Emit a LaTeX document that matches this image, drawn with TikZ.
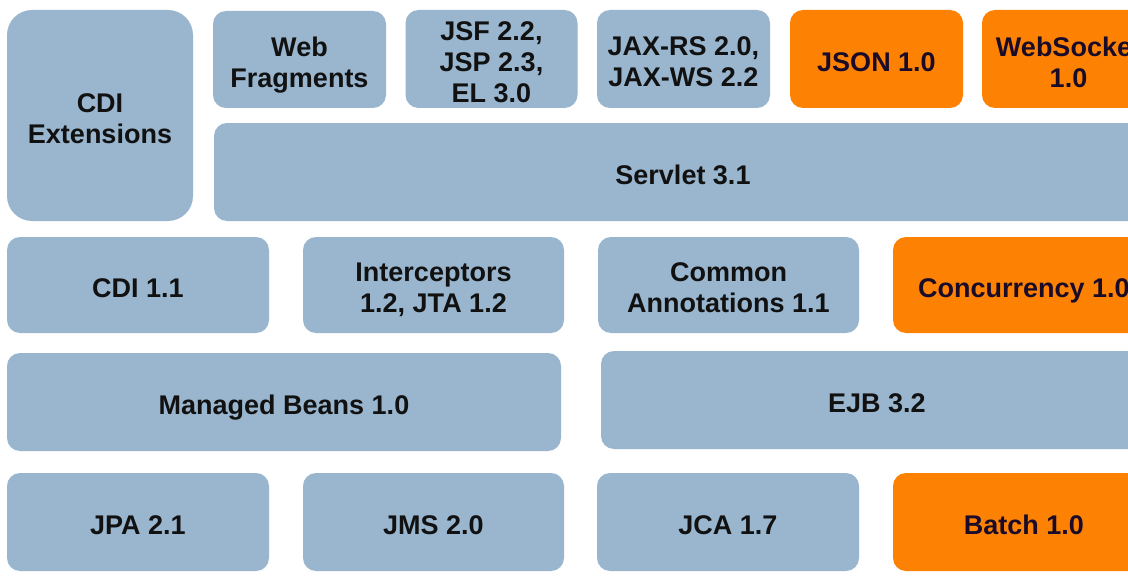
\documentclass[tikz,border=0pt]{standalone}
\usepackage{fontspec}
\setmainfont{Liberation Sans}
\definecolor{jblue}{HTML}{99B6CE}
\definecolor{jorange}{HTML}{FD8204}
\definecolor{jtext}{HTML}{111111}
\definecolor{jotext}{HTML}{1A0C28}
\tikzset{
  jboxb/.style={fill=jblue, rounded corners=13pt, inner sep=0pt},
  jboxo/.style={jboxb, fill=jorange},
  jlabb/.style={inner sep=0pt, align=center, text depth=0pt, text=jtext,
    font=\fontsize{27}{31}\selectfont\bfseries},
  jlabo/.style={jlabb, text=jotext}
}
% #1 kind (b/o), #2 name, #3 cx, #4 cy, #5 width, #6 height, #7 text
\newcommand\jbox[7]{%
  \node[jbox#1, minimum width=#5pt, minimum height=#6pt] (#2) at (#3,#4) {};
  \node[jlab#1] (#2-t) at ([yshift=-3pt]#2.center) {#7};}
\begin{document}
\begin{tikzpicture}[x=1pt,y=-1pt]
\useasboundingbox (0,0) rectangle (1128,578);
\clip (0,0) rectangle (1128,578);
\fill[white] (0,0) rectangle (1128,578);
% row 1
\node[jboxb, rounded corners=25pt, minimum width=186pt, minimum height=211pt] (cdiext) at (100,115.5) {};
\node[jlabb] (cdiext-t) at ([yshift=-3pt]cdiext.center) {CDI\\Extensions};
\jbox{b}{web}{299.5}{59.5}{173}{97}{Web\\Fragments}
\jbox{b}{jsf}{491.5}{59}{172}{98}{JSF 2.2,\\JSP 2.3,\\EL 3.0}
\jbox{b}{jax}{683.5}{59}{173}{98}{JAX-RS 2.0,\\JAX-WS 2.2}
\jbox{o}{json}{876.5}{59}{173}{98}{JSON 1.0}
\jbox{o}{websocket}{1068.5}{59}{173}{98}{WebSocket\\1.0}
% row 2
\jbox{b}{servlet}{683}{172}{938}{98}{Servlet 3.1}
% row 3
\jbox{b}{cdi}{138}{285}{262}{96}{CDI 1.1}
\jbox{b}{interceptors}{433.5}{285}{261}{96}{Interceptors\\1.2, JTA 1.2}
\jbox{b}{common}{728.5}{285}{261}{96}{Common\\Annotations 1.1}
\jbox{o}{concurrency}{1024}{285}{262}{96}{Concurrency 1.0}
% row 4
\jbox{b}{managed}{284}{402}{554}{98}{Managed Beans 1.0}
\jbox{b}{ejb}{877}{400}{552}{98}{EJB 3.2}
% row 5
\jbox{b}{jpa}{138}{522}{262}{98}{JPA 2.1}
\jbox{b}{jms}{433.5}{522}{261}{98}{JMS 2.0}
\jbox{b}{jca}{728}{522}{262}{98}{JCA 1.7}
\jbox{o}{batch}{1024}{522}{262}{98}{Batch 1.0}
\end{tikzpicture}
\end{document}
